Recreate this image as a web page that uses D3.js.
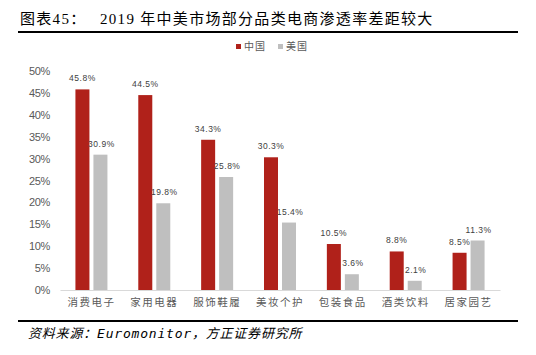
<!DOCTYPE html>
<html><head><meta charset="utf-8">
<script src="https://cdn.jsdelivr.net/npm/d3@7"></script>
<style>body{margin:0;background:#fff;}svg{display:block;}</style>
</head><body>
<script>
const categories = ["消费电子","家用电器","服饰鞋履","美妆个护","包装食品","酒类饮料","居家园艺"];
const china = [45.8,44.5,34.3,30.3,10.5,8.8,8.5];
const usa = [30.9,19.8,25.8,15.4,3.6,2.1,11.3];
const yTicks = [0,5,10,15,20,25,30,35,40,45,50];
const seriesNames = ["中国","美国"];
const colors = ["#B0211A","#BFBFBF"];

const W=536,H=355;
const svg=d3.select("body").append("svg").attr("width",W).attr("height",H);

const title=svg.append("text").attr("x",20).attr("y",24)
  .attr("font-family","'Liberation Serif','Noto Sans CJK SC',serif")
  .attr("font-size",15).attr("fill","#000").attr("letter-spacing","1.3");
title.append("tspan").text("图表45：");
title.append("tspan").attr("x",100).text("2019 年中美市场部分品类电商渗透率差距较大");
svg.append("line").attr("x1",18).attr("x2",518).attr("y1",32).attr("y2",32).attr("stroke","#000").attr("stroke-width",2);

const x=d3.scaleBand().domain(categories).range([60,500]);
const y=d3.scaleLinear().domain([0,50]).range([290,71]);

const ya=d3.axisLeft(y).tickValues(yTicks).tickFormat(d=>d+"%").tickSize(0).tickPadding(0);
const yg=svg.append("g").attr("transform","translate(50,0)").call(ya);
yg.select(".domain").remove();
yg.selectAll("text").attr("font-family","'Liberation Sans',Arial,sans-serif").attr("font-size",11).attr("fill","#595959").attr("letter-spacing","-0.3");

const xa=d3.axisBottom(x).tickSize(0).tickPadding(9);
const xg=svg.append("g").attr("transform","translate(0,290)").call(xa);
xg.select(".domain").attr("stroke","#D9D9D9").attr("stroke-width",1);
xg.selectAll("text").attr("font-family","'Noto Sans CJK SC',sans-serif").attr("font-size",10.5).attr("fill","#595959").attr("letter-spacing","1.5");

const bw=14, gap=4;
const data=[china,usa];
data.forEach((vals,si)=>{
  const off = si===0 ? -(bw+gap/2) : gap/2;
  const g=svg.append("g");
  g.selectAll("rect").data(vals).join("rect")
    .attr("x",(d,i)=>x(categories[i])+x.bandwidth()/2+off)
    .attr("y",d=>y(d)).attr("width",bw).attr("height",d=>y(0)-y(d))
    .attr("fill",colors[si]);
});
data.forEach((vals,si)=>{
  const off = si===0 ? -(bw+gap/2) : gap/2;
  svg.append("g").selectAll("text").data(vals).join("text")
    .attr("x",(d,i)=>x(categories[i])+x.bandwidth()/2+off+bw/2+(si===1?1:0))
    .attr("y",d=>y(d)-8)
    .attr("text-anchor","middle")
    .attr("font-family","'Liberation Sans',Arial,sans-serif").attr("font-size",8.5).attr("fill","#404040").attr("letter-spacing","0.5")
    .text(d=>d.toFixed(1)+"%");
});

const leg=[{x:236,t:seriesNames[0],c:colors[0]},{x:278,t:seriesNames[1],c:colors[1]}];
leg.forEach(l=>{
  svg.append("rect").attr("x",l.x).attr("y",44).attr("width",5).attr("height",5).attr("fill",l.c);
  svg.append("text").attr("x",l.x+8).attr("y",50).attr("font-family","'Noto Sans CJK SC',sans-serif").attr("font-size",10).attr("fill","#595959").attr("letter-spacing","1").text(l.t);
});

svg.append("line").attr("x1",18).attr("x2",518).attr("y1",321).attr("y2",321).attr("stroke","#000").attr("stroke-width",2);
svg.append("text").attr("x",28).attr("y",338)
  .attr("font-family","'DejaVu Sans Mono','Noto Sans CJK SC',monospace").attr("font-style","italic")
  .attr("font-size",13).attr("fill","#000").attr("letter-spacing","0.8")
  .text("资料来源：Euromonitor，方正证券研究所");
</script>
</body></html>
